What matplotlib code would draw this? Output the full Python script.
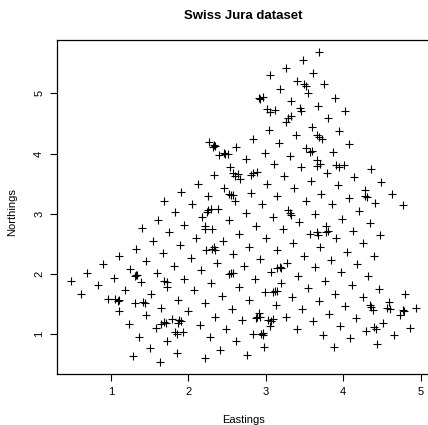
import matplotlib
matplotlib.use("Agg")
import matplotlib.pyplot as plt

plt.rcParams['font.family'] = ['Liberation Sans', 'DejaVu Sans']

# Sampling locations (km)
eastings = [
    3.48, 3.69, 3.26, 3.05, 3.61, 3.40, 3.52, 3.50, 3.75, 3.54, 3.19, 2.91, 2.97, 2.92,
    3.33, 3.89, 3.02, 3.06, 3.12, 3.44, 3.45, 3.68, 4.02, 3.33, 3.29, 3.81,
    3.26, 3.04, 3.39, 2.83, 3.17, 2.27, 2.33, 2.34, 2.32, 2.62, 3.52, 3.60, 3.57,
    2.40, 2.46, 2.48, 2.51, 2.99, 3.31, 2.75, 3.11, 2.54, 3.45, 2.33, 2.58, 2.60,
    2.64, 2.81, 2.83, 2.89, 3.23, 2.67, 2.12, 3.02, 2.46, 3.37, 1.91, 2.25, 2.53,
    2.55, 2.58, 2.81, 3.15, 2.60, 2.05, 2.95, 3.52, 1.69,
    3.60, 3.95, 3.66, 3.69, 3.73, 4.08, 3.87, 3.66, 3.66, 3.70, 3.91, 3.94, 4.01,
    4.36, 3.79, 4.14, 3.58, 4.49, 3.93, 4.28, 3.72, 4.28, 4.31, 4.63, 4.07, 4.41,
    4.77, 3.86,
    1.83, 1.61, 1.95, 1.40, 1.75, 1.54, 1.89, 1.33, 1.67, 1.11, 1.46, 0.90, 1.81,
    1.25, 0.69, 1.32, 1.34, 1.31, 1.60, 1.04, 1.94, 0.48, 1.39, 1.69, 1.72, 1.73,
    0.83, 1.18,
    2.24, 2.29, 2.26, 2.39, 2.18, 2.74, 3.29, 3.32, 3.33, 3.09, 3.43, 2.53, 2.87,
    2.21, 2.22, 2.31, 3.22, 2.66, 3.57, 2.10, 3.01, 2.45, 3.35, 2.33, 2.31, 2.34,
    2.23, 2.79, 3.14, 2.58, 3.49, 2.03, 2.93, 2.37, 3.28, 2.72, 3.18, 3.20, 3.14,
    2.16, 3.07, 2.52, 2.55, 2.58, 3.42, 2.86, 2.30, 3.20, 2.65, 2.08, 3.54,
    3.64, 4.20, 3.99, 4.34, 3.78, 3.80, 3.78, 3.66, 3.67, 4.13, 4.47, 3.91, 4.26,
    3.70, 4.05, 4.40, 3.84, 4.18, 3.63, 3.97, 4.32, 3.76, 4.11, 4.46,
    0.62, 1.52, 0.96, 1.06, 1.10, 1.09, 1.31, 1.42, 1.44, 1.87, 1.65, 1.10, 1.45,
    1.79, 1.88, 1.90, 1.87, 1.69, 1.71, 1.65, 1.23, 1.58, 1.83, 1.85, 1.93, 1.37,
    1.72, 1.51, 1.85, 1.29, 1.64,
    2.99, 3.10, 3.12, 3.14, 3.34, 2.43, 2.78, 2.22, 3.13, 2.57, 3.47, 2.00, 2.91,
    2.89, 2.92, 2.88, 2.35, 2.70, 3.26, 3.03, 3.07, 3.10, 3.05, 2.15, 2.49, 3.40,
    2.84, 2.94, 2.97, 2.96, 2.28, 2.62, 2.98, 2.41, 2.76, 2.22,
    4.80, 3.90, 3.69, 4.25, 4.03, 4.34, 4.36, 4.38, 4.59, 4.57, 4.60, 4.77, 4.79,
    4.73, 4.94, 3.82, 4.17, 3.61, 4.52, 3.96, 4.30, 4.40, 4.42, 4.86, 3.74, 4.65,
    4.09, 4.44, 3.88,
]
northings = [
    5.56, 5.69, 5.43, 5.30, 5.34, 5.21, 5.13, 5.15, 5.15, 5.00, 5.07, 4.92, 4.94, 4.90,
    4.87, 4.93, 4.74, 4.69, 4.73, 4.75, 4.71, 4.79, 4.71, 4.62, 4.59, 4.59,
    4.53, 4.40, 4.31, 4.25, 4.18, 4.20, 4.15, 4.13, 4.11, 4.11, 4.10, 4.04, 4.02,
    3.98, 4.01, 3.99, 3.99, 4.01, 3.96, 3.91, 3.83, 3.78, 3.77, 3.64, 3.67, 3.63,
    3.66, 3.64, 3.68, 3.70, 3.63, 3.57, 3.49, 3.50, 3.43, 3.42, 3.36, 3.30, 3.33,
    3.31, 3.31, 3.35, 3.29, 3.22, 3.17, 3.16, 3.21, 3.22,
    4.45, 4.38, 4.31, 4.28, 4.24, 4.16, 4.03, 3.90, 3.79, 3.82, 3.81, 3.78, 3.81,
    3.75, 3.68, 3.61, 3.55, 3.53, 3.48, 3.40, 3.33, 3.30, 3.28, 3.33, 3.27, 3.18,
    3.15, 3.16,
    3.03, 2.90, 2.82, 2.77, 2.69, 2.55, 2.48, 2.42, 2.34, 2.29, 2.21, 2.16, 2.14,
    2.08, 2.01, 1.99, 1.98, 1.97, 2.01, 1.93, 1.92, 1.88, 1.86, 1.88, 1.86, 1.79,
    1.81, 1.74,
    3.03, 3.08, 3.06, 3.08, 2.95, 3.02, 3.07, 3.01, 2.98, 2.94, 2.87, 2.89, 2.80,
    2.79, 2.74, 2.75, 2.74, 2.67, 2.66, 2.60, 2.59, 2.54, 2.52, 2.44, 2.41, 2.40,
    2.40, 2.45, 2.39, 2.33, 2.30, 2.27, 2.25, 2.19, 2.18, 2.13, 2.11, 2.10, 2.10,
    2.06, 2.04, 2.00, 2.01, 2.01, 1.97, 1.91, 1.85, 1.85, 1.78, 1.74, 1.77,
    3.00, 3.05, 2.92, 2.85, 2.79, 2.71, 2.69, 2.69, 2.64, 2.72, 2.64, 2.59, 2.51,
    2.44, 2.37, 2.29, 2.24, 2.16, 2.11, 2.03, 1.96, 1.89, 1.82, 1.75,
    1.67, 1.66, 1.59, 1.59, 1.56, 1.55, 1.52, 1.54, 1.52, 1.57, 1.44, 1.39, 1.31,
    1.25, 1.24, 1.22, 1.19, 1.20, 1.18, 1.17, 1.17, 1.11, 1.04, 1.00, 1.03, 0.96,
    0.89, 0.77, 0.68, 0.63, 0.54,
    1.70, 1.70, 1.72, 1.71, 1.62, 1.64, 1.56, 1.51, 1.49, 1.42, 1.41, 1.38, 1.35,
    1.28, 1.29, 1.26, 1.29, 1.23, 1.28, 1.23, 1.22, 1.25, 1.14, 1.15, 1.09, 1.08,
    1.00, 1.00, 1.02, 0.99, 0.95, 0.88, 0.79, 0.74, 0.66, 0.61,
    1.67, 1.67, 1.55, 1.61, 1.47, 1.49, 1.45, 1.40, 1.53, 1.44, 1.42, 1.40, 1.39,
    1.32, 1.44, 1.34, 1.26, 1.21, 1.19, 1.13, 1.06, 1.12, 1.09, 1.11, 0.99, 0.98,
    0.93, 0.84, 0.78,
]
xticks = [1, 2, 3, 4, 5]
yticks = [1, 2, 3, 4, 5]

fig = plt.figure(figsize=(4.28, 4.25), dpi=100)
W, H = 428, 425
# plot box in pixels: left, top, right, bottom
bl, bt, br, bb = 56.7, 39.5, 429.8, 374.2
ax = fig.add_axes([bl / W, 1 - bb / H, (br - bl) / W, (bb - bt) / H])

ax.plot(eastings, northings, linestyle='none', marker='+', color='black',
        markersize=5.5, markeredgewidth=0.8)

# R-style 4% padding around the data range
def padded(v):
    lo, hi = min(v), max(v)
    r = hi - lo
    return lo - 0.04 * r, hi + 0.04 * r

ax.set_xlim(*padded(eastings))
ax.set_ylim(*padded(northings))
ax.set_xticks(xticks)
ax.set_yticks(yticks)
ax.set_xticklabels([str(t) for t in xticks])
ax.set_yticklabels([str(t) for t in yticks], rotation=90, va='center')
ax.tick_params(direction='out', length=5, width=0.8, labelsize=8, pad=4)

for s in ax.spines.values():
    s.set_linewidth(0.9)
    s.set_color('black')
ax.spines['right'].set_visible(False)

ax.set_xlabel('Eastings', fontsize=8, labelpad=13)
ax.set_ylabel('Northings', fontsize=8)
ax.yaxis.set_label_coords(-0.107, 0.485)
ax.set_title('Swiss Jura dataset', fontsize=9.5, fontweight='bold', pad=15)

fig.savefig('out.png', dpi=100)
